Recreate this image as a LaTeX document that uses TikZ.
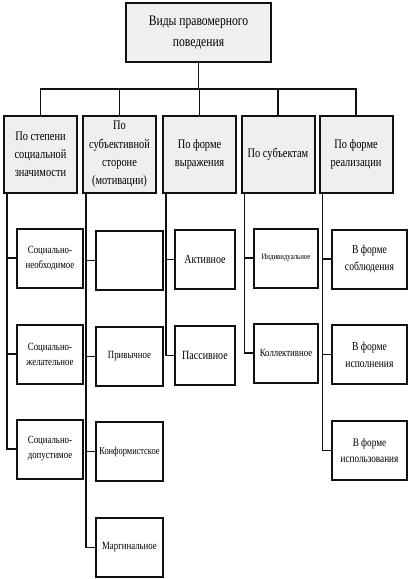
\documentclass[tikz,border=0pt]{standalone}
\usepackage{fontspec}
\setmainfont{Liberation Serif}[FakeStretch=0.8]
\usetikzlibrary{positioning,calc}
\definecolor{boxgray}{HTML}{EFEFEF}
\definecolor{ink}{HTML}{111111}

\begin{document}
\begin{tikzpicture}[x=1pt,y=-1pt,
  top/.style={draw=ink,fill=boxgray,line width=2pt,minimum width=145pt,minimum height=59pt,align=center,inner sep=1pt,font=\fontsize{14.5}{21.5}\selectfont},
  cat/.style={draw=ink,fill=boxgray,line width=2pt,minimum width=73pt,minimum height=77pt,align=center,inner sep=1pt,font=\fontsize{13}{18.3}\selectfont},
  kind/.style={draw=ink,fill=white,line width=2pt,minimum height=59pt,align=center,inner sep=1pt,font=\fontsize{11}{15}\selectfont},
  ln/.style={ink,line width=1.8pt}
]
\useasboundingbox (0,0) rectangle (408,579);
% root and the five criteria
\node[top] (vid) at (198.5,32.5) {Виды правомерного\\поведения};
\node[cat] (s1) at (40.5,154.5) {По степени\\социальной\\значимости};
\node[cat] (s2) at (119.5,154.5) {По\\субъективной\\стороне\\(мотивации)};
\node[cat] (s3) at (199.5,154.5) {По форме\\выражения};
\node[cat] (s4) at (278,154.5) {По субъектам};
\node[cat] (s5) at (356,154.5) {По форме\\реализации};
\coordinate (hub) at (vid.south |- 0,89);
\draw[ln] (vid.south) -- (hub);
\foreach \s in {1,...,5} \draw[ln] (s\s.north) |- (hub);
% kinds
\node[kind,minimum width=66pt] (k11) at (50,258) {Социально-\\необходимое};
\node[kind,minimum width=66pt] (k12) at (50,354) {Социально-\\желательное};
\node[kind,minimum width=66pt] (k13) at (50,449) {Социально-\\допустимое};
\node[kind,minimum width=67pt] (k21) at (129.5,260.5) {};
\node[kind,minimum width=67pt] (k22) at (129.5,356.5) {Привычное};
\node[kind,minimum width=67pt,font=\fontsize{10.5}{15}\selectfont] (k23) at (129.5,451.5) {Конформистское};
\node[kind,minimum width=67pt] (k24) at (129.5,547.5) {Маргинальное};
\node[kind,minimum width=60pt,font=\fontsize{12.5}{16}\selectfont] (k31) at (205,259.5) {Активное};
\node[kind,minimum width=60pt,font=\fontsize{12.5}{16}\selectfont] (k32) at (205,355.5) {Пассивное};
\node[kind,minimum width=64pt,font=\fontsize{8.5}{10}\selectfont] (k41) at (286,258) {Индивидуальное};
\node[kind,minimum width=64pt] (k42) at (286,353) {Коллективное};
\node[kind,minimum width=75pt,font=\fontsize{12}{17}\selectfont] (k51) at (369.5,259) {В форме\\соблюдения};
\node[kind,minimum width=75pt,font=\fontsize{12}{17}\selectfont] (k52) at (369.5,354.5) {В форме\\исполнения};
\node[kind,minimum width=75pt,font=\fontsize{11.5}{16}\selectfont] (k53) at (369.5,450.5) {В форме\\использования};
\foreach \s/\k in {1/11,1/12,1/13,2/21,2/22,2/23,2/24,3/31,3/32,4/41,4/42,5/51,5/52,5/53}
  \draw[ln] ($(s\s.south west)+(4,0)$) |- (k\k.west);
\end{tikzpicture}
\end{document}
